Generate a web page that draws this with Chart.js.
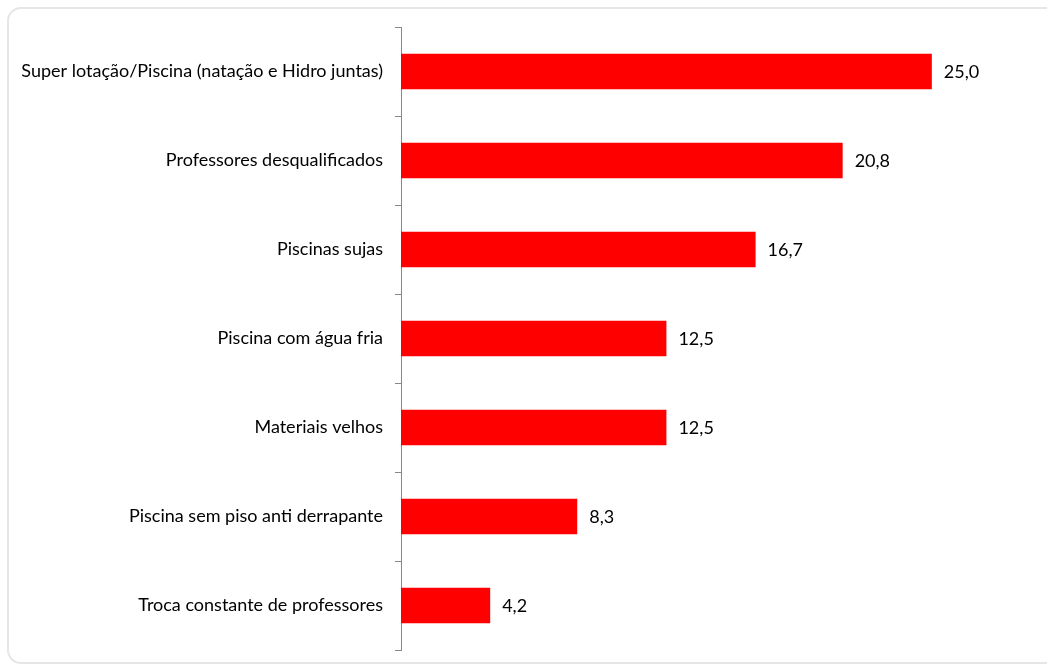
<!DOCTYPE html>
<html>
<head>
<meta charset="utf-8">
<script src="https://cdn.jsdelivr.net/npm/chart.js@4"></script>
<style>
  html, body { margin: 0; padding: 0; background: #fff; overflow: hidden; }
  #wrap { position: relative; width: 1047px; height: 666px; }
  #frame { position: absolute; left: 7px; top: 7px; width: 1060px; height: 657px;
           border: 2px solid #e6e6e6; border-radius: 14px; box-sizing: border-box; }
  canvas { position: absolute; left: 0; top: 0; }
</style>
</head>
<body>
<div id="wrap">
  <div id="frame"></div>
  <canvas id="canvas" width="1047" height="666"></canvas>
</div>
<script>
var categories = [
  'Super lotação/Piscina (natação e Hidro juntas)',
  'Professores desqualificados',
  'Piscinas sujas',
  'Piscina com água fria',
  'Materiais velhos',
  'Piscina sem piso anti derrapante',
  'Troca constante de professores'
];
var values = [25.0, 20.8, 16.7, 12.5, 12.5, 8.3, 4.2];

var FONT = 'Lato, "Liberation Sans", sans-serif';

// value labels right of each bar
var valueLabels = {
  id: 'valueLabels',
  afterDatasetsDraw: function(chart) {
    var ctx = chart.ctx;
    var meta = chart.getDatasetMeta(0);
    ctx.save();
    ctx.font = '18px ' + FONT;
    ctx.fillStyle = '#000';
    ctx.textAlign = 'left';
    ctx.textBaseline = 'middle';
    meta.data.forEach(function(bar, i) {
      ctx.fillText(values[i].toFixed(1).replace('.', ','), bar.x + 12, bar.y + 1);
    });
    ctx.restore();
  }
};

var ctx = document.getElementById('canvas').getContext('2d');
var myChart = new Chart(ctx, {
  type: 'bar',
  data: {
    labels: categories,
    datasets: [{
      data: values,
      backgroundColor: '#ff0000',
      borderWidth: 0,
      barPercentage: 0.4,
      categoryPercentage: 1.0
    }]
  },
  plugins: [valueLabels],
  options: {
    indexAxis: 'y',
    responsive: false,
    animation: false,
    layout: { padding: { top: 27, bottom: 16, left: 0, right: 9 } },
    plugins: { legend: { display: false }, tooltip: { enabled: false } },
    scales: {
      x: { display: false, min: 0, max: 30 },
      y: {
        afterFit: function(scale) {
          scale.width = 401;
          scale.paddingTop = 0;
          scale.paddingBottom = 0;
        },
        grid: { offset: true, drawOnChartArea: false, drawTicks: true, tickLength: 6, color: '#888', lineWidth: 1 },
        border: { display: true, color: '#888', width: 1 },
        ticks: { padding: 12, color: '#000', font: { family: FONT, size: 18 } }
      }
    }
  }
});
</script>
</body>
</html>
